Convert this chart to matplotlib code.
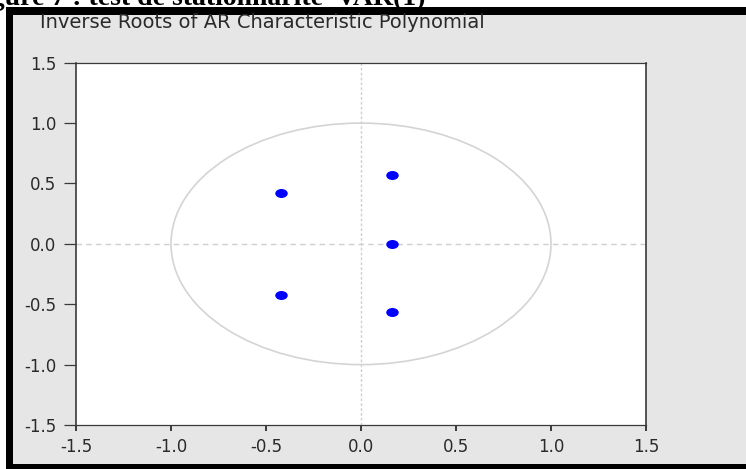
import numpy as np
import matplotlib
matplotlib.use("Agg")
import matplotlib.pyplot as plt
from matplotlib.patches import Rectangle, Circle
from matplotlib.path import Path
from matplotlib.transforms import Affine2D

plt.rcParams['axes.unicode_minus'] = False
plt.rcParams['font.family'] = ['DejaVu Sans']

# Data: inverse roots (real, imaginary)
root_real = [-0.42, 0.164, 0.164, -0.42, 0.164]
root_imag = [0.423, 0.566, 0.0, -0.423, -0.566]
tick_values = [-1.5, -1.0, -0.5, 0.0, 0.5, 1.0, 1.5]
tick_labels = ["-1.5", "-1.0", "-0.5", "0.0", "0.5", "1.0", "1.5"]
title = "Inverse Roots of AR Characteristic Polynomial"
caption = "Figure 7 : test de stationnarité  VAR(1)"

W, H = 746, 469
fig = plt.figure(figsize=(W / 100, H / 100), dpi=100)
fig.patch.set_facecolor("white")

def fx(px):
    return px / W

def fy(py):
    return 1 - py / H

# black frame and gray panel
fig.patches.append(Rectangle((fx(6), 0), 1.0, fy(7), transform=fig.transFigure,
                             facecolor="black", edgecolor="none", zorder=0))
fig.patches.append(Rectangle((fx(13), fy(464)), 1.0, fy(15) - fy(464),
                             transform=fig.transFigure,
                             facecolor="#e6e6e6", edgecolor="none", zorder=0))

# caption at top, mostly cut off by the image edge as in the reference
fig.text(fx(425), fy(5.0), caption, ha="right", va="baseline",
         fontfamily="Liberation Serif", fontweight="bold", fontsize=20,
         color="black", zorder=-1)

# title
fig.text(fx(40), fy(28), title, ha="left", va="baseline", fontsize=14,
         color="#2a2a2a")

ax = fig.add_axes([fx(76), fy(425), fx(646) - fx(76), fy(62.7) - fy(425)])
ax.set_zorder(5)
ax.set_facecolor("white")
ax.set_xlim(-1.5, 1.5)
ax.set_ylim(-1.5, 1.5)

# unit circle
ax.add_patch(Circle((0, 0), 1.0, fill=False, edgecolor="#d4d4d4",
                    linewidth=1.2, zorder=1))
# dashed axes
ax.axhline(0, color="#cfcfcf", linewidth=1.0, dashes=(4, 3), zorder=1)
ax.axvline(0, color="#cfcfcf", linewidth=1.0, dashes=(2, 1.5), zorder=1)

# ellipse marker
circ = Path.unit_circle()
ell = circ.transformed(Affine2D().scale(1.0, 0.72))
ax.plot(root_real, root_imag, linestyle="none", marker=ell, markersize=9,
        color="#0000ff", markeredgewidth=0, zorder=3)

ax.set_xticks(tick_values)
ax.set_xticklabels(tick_labels)
ax.set_yticks(tick_values)
ax.set_yticklabels(tick_labels)
ax.tick_params(axis="x", direction="out", length=4.3, width=1.4, pad=5,
               labelsize=12, colors="#3a3a3a", labelcolor="#2a2a2a")
ax.tick_params(axis="y", direction="out", length=8.5, width=0.9, pad=5.5,
               labelsize=12, colors="#3a3a3a", labelcolor="#2a2a2a")
for side, sp in ax.spines.items():
    sp.set_color("#3a3a3a")
    sp.set_linewidth(1.2 if side in ("left", "right") else 0.9)

fig.savefig("out.png", dpi=100)
